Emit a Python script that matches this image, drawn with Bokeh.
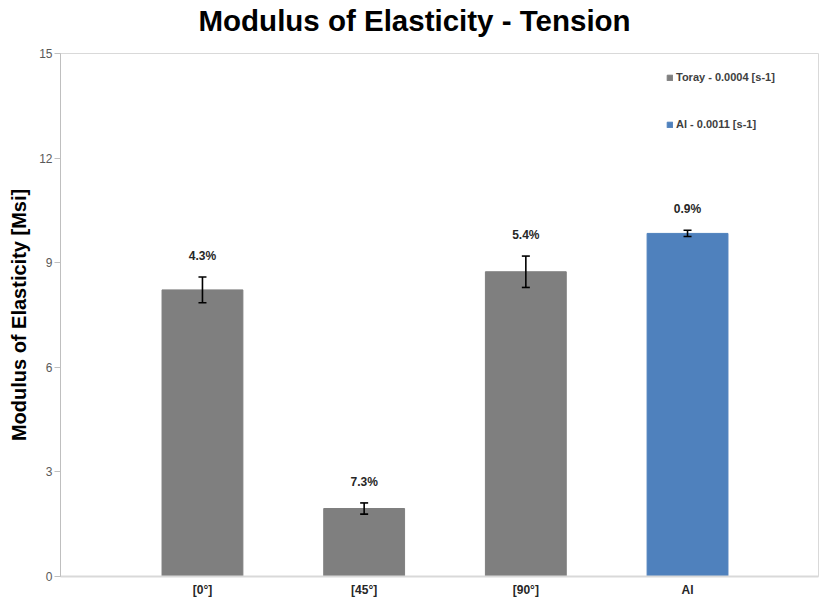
from bokeh.plotting import figure
from bokeh.models import (ColumnDataSource, Range1d, FixedTicker, Whisker, TeeHead,
                          Legend, LegendItem, LabelSet, Title)
from bokeh.core.properties import value
from bokeh.embed import file_html
from bokeh.resources import INLINE

# ---- data ----
title_text = "Modulus of Elasticity - Tension"
categories = ["[0°]", "[45°]", "[90°]", "Al"]
modulus = [8.22, 1.95, 8.74, 9.84]
errors = [0.37, 0.16, 0.45, 0.09]
cov_labels = ["4.3%", "7.3%", "5.4%", "0.9%"]
series = ["Toray - 0.0004 [s-1]", "Toray - 0.0004 [s-1]", "Toray - 0.0004 [s-1]", "Al - 0.0011 [s-1]"]
y_ticks = [0, 3, 6, 9, 12, 15]

GREY = "#7f7f7f"
BLUE = "#4f81bd"
colors = [BLUE if s.startswith("Al") else GREY for s in series]

xs = list(range(len(categories)))
src = ColumnDataSource(dict(
    x=xs, top=modulus, err=errors,
    upper=[m + e for m, e in zip(modulus, errors)],
    lower=[m - e for m, e in zip(modulus, errors)],
    label=cov_labels, color=colors, series=series,
))

p = figure(width=819, height=599, output_backend="svg", toolbar_location=None, title=None,
           x_range=Range1d(-0.878, 3.81), y_range=Range1d(0, 15),
           min_border_left=60, min_border_right=1, min_border_top=53, min_border_bottom=23)

# spacer panel next to the frame, then the real title above it
p.add_layout(Title(text=" ", text_font_size="1px", standoff=13), "above")
p.add_layout(Title(text=title_text, align="left", offset=138, standoff=2,
                   text_font="Liberation Sans", text_font_size="29.5px",
                   text_font_style="bold", text_color="#000000"), "above")

bars = p.vbar(x="x", top="top", width=0.5, source=src, fill_color="color",
              line_color="color", line_width=1)

w = Whisker(base="x", upper="upper", lower="lower", source=src, level="overlay",
            line_color="black", line_width=1.6,
            upper_head=TeeHead(size=8, line_color="black", line_width=1.6),
            lower_head=TeeHead(size=8, line_color="black", line_width=1.6))
p.add_layout(w)

lbl = LabelSet(x="x", y="upper", text="label", source=src, y_offset=14,
               text_align="center", text_baseline="bottom",
               text_font=value("Liberation Sans"), text_font_size=value("12px"),
               text_font_style="bold", text_color="#262626")
p.add_layout(lbl)

# legend
g_grey = p.rect(x=[0], y=[-10], width=0.1, height=0.1, fill_color=GREY, line_color=GREY)
g_blue = p.rect(x=[0], y=[-10], width=0.1, height=0.1, fill_color=BLUE, line_color=BLUE)
legend = Legend(items=[LegendItem(label=series[0], renderers=[g_grey]),
                       LegendItem(label=series[3], renderers=[g_blue])],
                location=(606, 446), orientation="vertical",
                glyph_width=7, glyph_height=7, spacing=35, padding=0, margin=0,
                label_standoff=3, label_text_font="Liberation Sans",
                label_text_font_size="11px", label_text_font_style="bold",
                label_text_color="#404040", background_fill_alpha=0,
                border_line_color=None)
p.add_layout(legend)

# axes styling
p.xgrid.grid_line_color = None
p.ygrid.grid_line_color = None
p.outline_line_color = "#d9d9d9"

p.yaxis.ticker = FixedTicker(ticks=y_ticks)
p.yaxis.minor_tick_line_color = None
p.yaxis.major_tick_out = 6
p.yaxis.major_tick_in = 0
p.yaxis.major_tick_line_color = "#bfbfbf"
p.yaxis.axis_line_color = "#bfbfbf"
p.yaxis.major_label_text_font = "Liberation Sans"
p.yaxis.major_label_text_font_size = "12px"
p.yaxis.major_label_text_color = "#595959"
p.yaxis.major_label_standoff = 2
p.yaxis.axis_label = "Modulus of Elasticity [Msi]"
p.yaxis.axis_label_text_font = "Liberation Sans"
p.yaxis.axis_label_text_font_size = "20px"
p.yaxis.axis_label_text_font_style = "bold"
p.yaxis.axis_label_text_color = "#000000"
p.yaxis.axis_label_standoff = 6

p.xaxis.ticker = FixedTicker(ticks=xs)
p.xaxis.major_label_overrides = {i: c for i, c in zip(xs, categories)}
p.xaxis.minor_tick_line_color = None
p.xaxis.major_tick_line_color = None
p.xaxis.axis_line_color = "#d9d9d9"
p.xaxis.axis_line_width = 2
p.xaxis.major_label_text_font = "Liberation Sans"
p.xaxis.major_label_text_font_size = "12px"
p.xaxis.major_label_text_font_style = "bold"
p.xaxis.major_label_text_color = "#262626"
p.xaxis.major_label_standoff = 0

open("out.html", "w").write(file_html(p, INLINE))
